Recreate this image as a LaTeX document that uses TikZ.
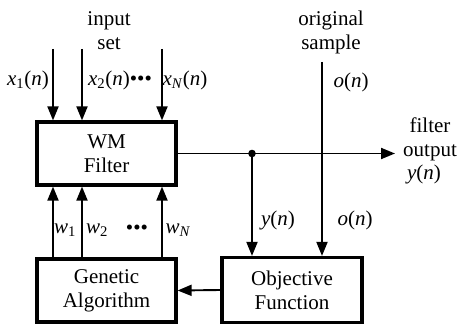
\documentclass[tikz,border=0pt]{standalone}
\usepackage{fontspec}
\setmainfont{Liberation Serif}
\usetikzlibrary{arrows.meta}
\newcommand{\vi}[1]{\textit{#1}}
\begin{document}
\begin{tikzpicture}[x=1pt,y=-1pt, font=\fontsize{21}{24}\selectfont,
  box/.style={draw, line width=3.2pt, minimum width=139pt, minimum height=63pt, align=center, inner sep=0pt},
  arr/.style={line width=1.9pt, -{Triangle[length=14pt,width=11pt]}},
  lab/.style={inner sep=0pt, align=center}]
\useasboundingbox (0,0) rectangle (460,326);
% boxes
\node[box] (wm) at (106.5,153.5) {WM\\Filter};
\node[box] (ga) at (106.5,290.5) {Genetic\\Algorithm};
\node[box, minimum width=140pt, minimum height=65pt] (obj) at (292,290) {Objective\\Function};
% inputs and weights
\foreach \n/\x in {1/53,2/82,3/162} {
  \coordinate (in\n) at (\x,49);
  \draw[arr] (in\n) -- (in\n |- wm.north);
  \draw[arr] (ga.north -| in\n) -- (wm.south -| in\n);
}
% filter output
\coordinate (out) at (395,153.5);
\coordinate (split) at (252,153.5);
\coordinate (orig) at (322,62);
\draw[arr] (wm.east) -- (out);
\fill (split) circle (3.8pt);
\draw[arr] (split) -- (split |- obj.north);
\draw[arr] (orig) -- (orig |- obj.north);
\draw[arr] (obj.west) -- (ga.east);
% labels
\node[lab] (tin) at (109,31) {input\\set};
\node[lab] (torig) at (331,32) {original\\sample};
\node[lab] (tout) at (430,139) {filter\\output};
\node[lab] (tyout) at (424,174) {\vi{y}(\vi{n})};
\node[lab] (tx1) at (28,80) {\vi{x}\textsubscript{1}(\vi{n})};
\node[lab] (tx2) at (120,80) {\vi{x}\textsubscript{2}(\vi{n})•••};
\node[lab] (txN) at (185,80) {\vi{x}\textsubscript{\vi{N}}(\vi{n})};
\node[lab] (to1) at (351,82) {\vi{o}(\vi{n})};
\node[lab] (tw1) at (65,230) {\vi{w}\textsubscript{1}};
\node[lab] (tw2) at (97,230) {\vi{w}\textsubscript{2}};
\node[lab] (twd) at (137,230) {•••};
\node[lab] (twN) at (178,230) {\vi{w}\textsubscript{\vi{N}}};
\node[lab] (ty2) at (278,220) {\vi{y}(\vi{n})};
\node[lab] (to2) at (355,220) {\vi{o}(\vi{n})};
\end{tikzpicture}
\end{document}
